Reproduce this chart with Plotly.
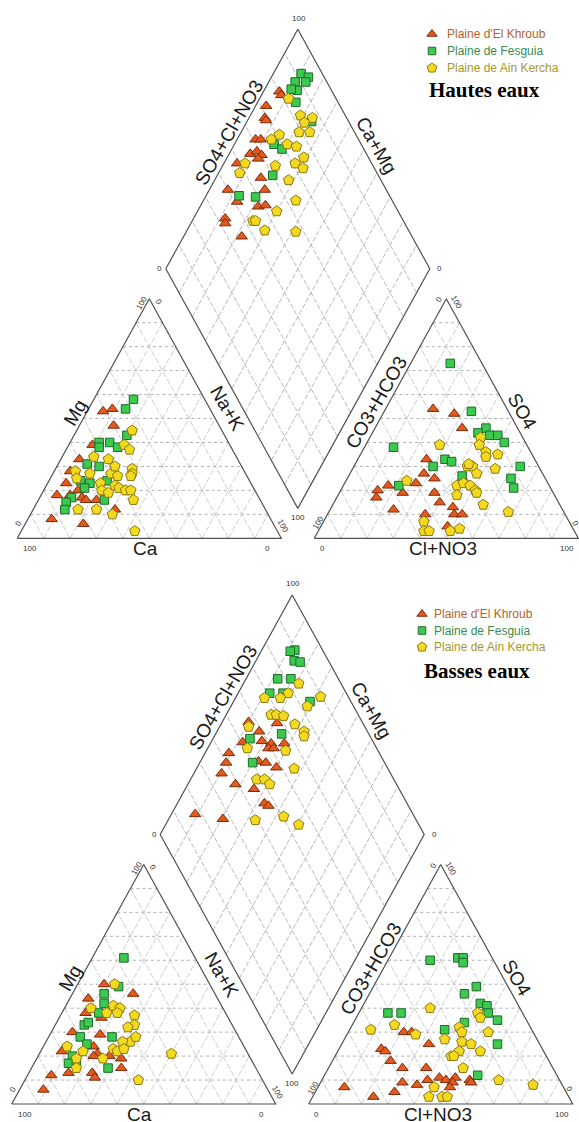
import plotly.graph_objects as go

# Piper diagram geometry (triangle side = 100 units)
H = 3 ** 0.5 / 2          # height of a unit equilateral triangle
GAP = 12.5                # gap between the cation and anion triangles
TICKS = [10, 20, 30, 40, 50, 60, 70, 80, 90]
PX_X, PX_Y = 2.64, 2.766  # screen pixels per diagram unit
FIG_W, FIG_H = 579, 1122

SITES = ["Plaine d'El Khroub", "Plaine de Fesguia", "Plaine de Ain Kercha"]
SITE_TEXT = ["#b4632f", "#3c8c4a", "#a8982c"]
SITE_MARKERS = [
    dict(symbol="triangle-up", size=10, color="#e35a1f", line=dict(color="#7a2a08", width=1)),
    dict(symbol="square", size=8.5, color="#3cc94f", line=dict(color="#1d6a2a", width=1)),
    dict(symbol="pentagon", size=11, color="#f4da1e", line=dict(color="#8a7812", width=1)),
]

# ---------------- Hautes eaux ----------------
# cation triangle: (Ca %, Mg %)
he_khroub_cation = [(41, 53), (37, 54), (40, 47), (52, 39), (60, 33), (66, 28), (70, 23), (67, 20),
                    (76, 18), (71, 18), (67, 17), (66, 16), (62, 16), (57, 12), (83, 8), (72, 6)]
he_fesguia_cation = [(27, 58), (32, 54), (37, 43), (49, 40), (45, 40), (43, 38), (50, 38), (58, 31),
                     (54, 30), (64, 24), (61, 23), (64, 21), (71, 17), (74, 15), (76, 12), (59, 16), (54, 24)]
he_kercha_cation = [(34, 45), (40, 39), (39, 37), (54, 34), (49, 33), (64, 28), (59, 27), (42, 29),
                    (43, 27), (51, 27), (49, 26), (44, 26), (57, 23), (52, 22), (51, 21), (49, 20),
                    (47, 20), (58, 20), (56, 19), (48, 16), (64, 12), (71, 12), (59, 10), (54, 3),
                    (65, 25), (48, 30)]
# anion triangle: (Cl+NO3 %, SO4 %)
he_khroub_anion = [(18, 54), (27, 52), (33, 46), (26, 33), (28, 27), (33, 25), (27, 23), (17, 22),
                   (14, 20), (15, 17), (24, 19), (36, 19), (40, 15), (24, 12), (37, 10), (46, 13),
                   (48, 10), (51, 10), (48, 5), (46, 23)]
he_fesguia_anion = [(15, 73), (33, 53), (42, 46), (40, 44), (45, 43), (48, 43), (52, 40), (11, 38),
                    (33, 33), (36, 32), (30, 30), (63, 30), (43, 26), (62, 25), (65, 21), (21, 22)]
he_kercha_anion = [(28, 39), (42, 42), (43, 39), (47, 36), (48, 34), (52, 35), (54, 29), (43, 30),
                   (45, 30), (48, 27), (23, 24), (43, 22), (45, 23), (48, 22), (51, 20), (52, 19),
                   (45, 18), (57, 14), (68, 11), (38, 7), (40, 3), (42, 3), (50, 3), (53, 4), (43, 31)]
# diamond: (Ca+Mg %, SO4+Cl+NO3 %)
he_khroub_diamond = [(94, 80), (92.5, 80), (96, 72), (94, 69), (93, 69), (93, 61), (91, 63), (92, 56),
                     (90, 59), (87.5, 60), (88, 58), (95, 49), (83, 55), (79, 54), (93, 40), (87, 41),
                     (78, 48), (75.5, 51), (88, 33), (87, 32), (78, 35.5)]
he_fesguia_diamond = [(89.5, 92), (90, 88), (86, 94), (86, 92), (87.5, 87), (90, 85), (85.5, 84),
                      (85, 67), (81, 69), (79, 60), (87.5, 43), (81, 49), (75.5, 86)]
he_kercha_diamond = [(89, 82), (81, 83), (76, 87), (78, 83), (78, 79), (74, 83), (87, 67), (85, 71),
                     (80, 72), (76, 75), (71, 75.5), (73, 71), (69, 73), (80, 63), (92, 52), (92, 48),
                     (72, 65), (65, 63.5), (70, 54), (77, 43), (76, 44), (70.5, 45.5), (58.5, 57)]

# ---------------- Basses eaux ----------------
be_khroub_cation = [(40, 50), (31, 46), (49, 44), (53, 38), (48, 36), (62, 30), (52, 29), (70, 22),
                    (57, 24), (57, 21), (59, 20), (53, 20), (49, 19), (67, 19), (79, 12), (72, 13),
                    (63, 13), (63, 11), (51, 15), (85, 6)]
be_fesguia_cation = [(27, 61), (35, 49), (42, 46), (44, 42), (48, 38), (56, 33), (54, 34), (60, 28),
                     (59, 25), (48, 28), (67, 20), (70, 17), (67, 17), (56, 15)]
be_kercha_cation = [(36, 50), (41, 41), (39, 40), (50, 40), (45, 38), (41, 38), (35, 37), (37, 33),
                    (40, 32), (42, 26), (39, 28), (45, 26), (50, 23), (49, 22), (46, 23), (56, 19),
                    (62, 22), (67, 24), (66, 19), (68, 15), (29, 21), (47, 10)]
be_khroub_anion = [(21, 30), (24, 30), (33, 25), (16, 23), (18, 22), (22, 18), (28, 15), (37, 15),
                   (40, 10), (37, 8), (31, 9), (30, 5), (44, 11), (47, 10), (50, 11), (50, 9),
                   (50, 7), (56, 10), (57, 9), (10, 7), (23, 3)]
be_fesguia_anion = [(16, 60), (26, 61), (28, 61), (29, 59), (39, 49), (36, 46), (44, 42), (47, 41),
                    (49, 38), (54, 35), (11, 38), (16, 38), (42, 34), (36, 31), (59, 25), (58, 12)]
be_kercha_anion = [(26, 40), (45, 38), (47, 36), (16, 33), (8, 31), (26, 29), (41, 32), (43, 30),
                   (53, 30), (38, 27), (45, 26), (49, 25), (54, 22), (46, 22), (44, 20), (45, 20),
                   (51, 15), (67, 10), (81, 8), (44, 7), (44, 3), (49, 3), (51, 3)]
be_khroub_diamond = [(79, 67.5), (90, 57), (84, 59), (88, 50.5), (81, 58), (77, 61), (77, 59), (75, 61),
                     (72, 66), (91, 43), (90, 40), (78, 52.5), (75, 55), (70, 58), (89.5, 36), (82, 39),
                     (74, 45), (67, 46), (65, 47), (91, 17.5), (79.5, 27)]
be_fesguia_diamond = [(87.5, 89.5), (89, 87.5), (85.5, 87), (83, 89), (83, 82), (88, 77), (88, 71),
                      (83, 76), (71, 84.5), (75, 67), (86, 54), (80, 50)]
be_kercha_diamond = [(79, 84), (81, 78), (83, 74), (89, 68), (68, 89.5), (71, 82.5), (83, 67), (81, 69),
                     (78, 71.5), (89, 56), (72, 74), (67, 76), (66, 75), (85, 51), (70, 65), (63, 64.5),
                     (75, 48), (72, 51), (69, 52), (67, 39), (57, 50.5), (49.6, 54.5)]


# ---------- coordinate transforms ----------
def cat_pt(ca, mg):
    nak = 100 - ca - mg
    return nak + mg / 2, mg * H


def an_pt(cl, so4):
    return 100 + GAP + cl + so4 / 2, so4 * H


def dia_pt(camg, s):
    x1 = 100 - camg          # Na+K projected from the cation triangle
    x2 = 100 + GAP + s       # SO4+Cl projected from the anion triangle
    return (x1 + x2) / 2, H * (x2 - x1)


def to_xy(func, pairs):
    pts = [func(a, b) for a, b in pairs]
    return [p[0] for p in pts], [p[1] for p in pts]


def segments_xy(segs):
    xs, ys = [], []
    for (p, q) in segs:
        xs += [p[0], q[0], None]
        ys += [p[1], q[1], None]
    return xs, ys


# grid segments
tri_horiz = [(cat_pt(100 - t, t), cat_pt(0, t)) for t in TICKS] + \
            [(an_pt(0, t), an_pt(100 - t, t)) for t in TICKS]
tri_slant = [(cat_pt(t, 0), cat_pt(t, 100 - t)) for t in TICKS] + \
            [(cat_pt(100 - t, 0), cat_pt(0, 100 - t)) for t in TICKS] + \
            [(an_pt(t, 0), an_pt(t, 100 - t)) for t in TICKS] + \
            [(an_pt(100 - t, 0), an_pt(0, 100 - t)) for t in TICKS]
dia_grid = [(dia_pt(t, 0), dia_pt(t, 100)) for t in TICKS] + \
           [(dia_pt(0, t), dia_pt(100, t)) for t in TICKS]
GRID_STYLES = [
    (tri_horiz, dict(color="#b2b2b2", width=1, dash="dot")),
    (tri_slant, dict(color="#c2c2c2", width=0.8, dash="6px,2px")),
    (dia_grid, dict(color="#a8a8a8", width=0.8, dash="5px,2px")),
]
outline_pts = {
    "cation": [cat_pt(100, 0), cat_pt(0, 0), cat_pt(0, 100), cat_pt(100, 0)],
    "anion": [an_pt(0, 0), an_pt(100, 0), an_pt(0, 100), an_pt(0, 0)],
    "diamond": [dia_pt(100, 0), dia_pt(100, 100), dia_pt(0, 100), dia_pt(0, 0), dia_pt(100, 0)],
}

# anchor points for labels
C_BL, C_BR, C_AP = cat_pt(100, 0), cat_pt(0, 0), cat_pt(0, 100)
A_BL, A_BR, A_AP = an_pt(0, 0), an_pt(100, 0), an_pt(0, 100)
D_L, D_T, D_R, D_B = dia_pt(100, 0), dia_pt(100, 100), dia_pt(0, 100), dia_pt(0, 0)


def mid(p, q):
    return (p[0] + q[0]) / 2, (p[1] + q[1]) / 2


SMALL, BIG = 8, 19
# (anchor, text, font size, dx px, dy px (down), angle)
LABELS = [
    (C_BL, "100", SMALL, 13, 10, 0), (C_BR, "0", SMALL, -14, 10, 0),
    (C_BL, "0", SMALL, 1, -15, -60), (C_AP, "100", SMALL, -7, 4, -60),
    (C_AP, "0", SMALL, 9, 3, 60), (C_BR, "100", SMALL, 2, -12, 60),
    (mid(C_BL, C_AP), "Mg", BIG, -8, -6, -60), (mid(C_BR, C_AP), "Na+K", BIG, 12, -10, 60),
    (mid(C_BL, C_BR), "Ca", BIG, -4, 10, 0),
    (A_BL, "0", SMALL, 8, 10, 0), (A_BR, "100", SMALL, -11, 10, 0),
    (A_BL, "100", SMALL, 4, -16, -60), (A_AP, "0", SMALL, -7, 1, -60),
    (A_AP, "100", SMALL, 10, 4, 60), (A_BR, "0", SMALL, -3, -15, 60),
    (mid(A_BL, A_AP), "CO3+HCO3", BIG, -4, -16, -60), (mid(A_BR, A_AP), "SO4", BIG, 10, -7, 60),
    (mid(A_BL, A_BR), "Cl+NO3", BIG, -3, 10, 0),
    (D_T, "100", SMALL, 1, -11, 0), (D_L, "0", SMALL, -6, 0, 0),
    (D_R, "0", SMALL, 10, 0, 0), (D_B, "100", SMALL, 0, 9, 0),
    (mid(D_L, D_T), "SO4+Cl+NO3", BIG, -3, -17, -60), (mid(D_R, D_T), "Ca+Mg", BIG, 13, -4, 60),
]

# key block (symbol column x, first row y, row step, text x) and title position, in page pixels
PANELS = [
    dict(axis="", title="Hautes eaux", origin=(17.3, 538.3), top=0,
         cation=[he_khroub_cation, he_fesguia_cation, he_kercha_cation],
         anion=[he_khroub_anion, he_fesguia_anion, he_kercha_anion],
         diamond=[he_khroub_diamond, he_fesguia_diamond, he_kercha_diamond],
         key=(432, 34, 17, 445), title_pos=(427, 90)),
    dict(axis="2", title="Basses eaux", origin=(11.7, 1104), top=561,
         cation=[be_khroub_cation, be_fesguia_cation, be_kercha_cation],
         anion=[be_khroub_anion, be_fesguia_anion, be_kercha_anion],
         diamond=[be_khroub_diamond, be_fesguia_diamond, be_kercha_diamond],
         key=(422, 614, 16.5, 432), title_pos=(422, 671)),
]

fig = go.Figure()
layout = dict(
    width=FIG_W, height=FIG_H, margin=dict(l=0, r=0, t=0, b=0),
    paper_bgcolor="white", plot_bgcolor="rgba(0,0,0,0)", showlegend=False, annotations=[],
    # page-pixel overlay used for the key symbols
    xaxis3=dict(range=[0, FIG_W], domain=[0, 1], visible=False, fixedrange=True, anchor="y3"),
    yaxis3=dict(range=[FIG_H, 0], domain=[0, 1], visible=False, fixedrange=True, anchor="x3"),
)
panel_h = FIG_H / 2
FONT_SANS = "Arial, Liberation Sans, sans-serif"

for pi, panel in enumerate(PANELS):
    sfx = panel["axis"]
    xa, ya = "x" + sfx, "y" + sfx
    ox, oy = panel["origin"]
    top = panel["top"]
    layout["xaxis" + sfx] = dict(range=[-ox / PX_X, (FIG_W - ox) / PX_X], domain=[0, 1],
                                 visible=False, fixedrange=True, anchor=ya)
    layout["yaxis" + sfx] = dict(range=[-(top + panel_h - oy) / PX_Y, (oy - top) / PX_Y],
                                 domain=[1 - (top + panel_h) / FIG_H, 1 - top / FIG_H],
                                 visible=False, fixedrange=True, anchor=xa)

    for segs, style in GRID_STYLES:
        gx, gy = segments_xy(segs)
        fig.add_trace(go.Scatter(x=gx, y=gy, mode="lines", xaxis=xa, yaxis=ya,
                                 hoverinfo="skip", line=style))
    for pts in outline_pts.values():
        fig.add_trace(go.Scatter(x=[p[0] for p in pts], y=[p[1] for p in pts], mode="lines",
                                 xaxis=xa, yaxis=ya, hoverinfo="skip",
                                 line=dict(color="#505050", width=1.2)))

    kx, ky, kstep, ktx = panel["key"]
    for si, site in enumerate(SITES):
        xs, ys = [], []
        for func, key in ((cat_pt, "cation"), (an_pt, "anion"), (dia_pt, "diamond")):
            x, y = to_xy(func, panel[key][si])
            xs += x
            ys += y
        fig.add_trace(go.Scatter(x=xs, y=ys, mode="markers", xaxis=xa, yaxis=ya,
                                 name=site, marker=SITE_MARKERS[si]))

        # key entry: symbol + coloured site name
        row_y = ky + si * kstep
        key_marker = dict(SITE_MARKERS[si])
        key_marker["size"] = key_marker["size"] - 1
        fig.add_trace(go.Scatter(x=[kx], y=[row_y], mode="markers", xaxis="x3", yaxis="y3",
                                 hoverinfo="skip", marker=key_marker))
        layout["annotations"].append(dict(
            x=ktx, y=row_y, xref="x3", yref="y3", xanchor="left", yanchor="middle",
            text=site, showarrow=False,
            font=dict(family=FONT_SANS, size=12, color=SITE_TEXT[si]),
        ))

    for anchor, text, size, dx, dy, ang in LABELS:
        layout["annotations"].append(dict(
            x=anchor[0], y=anchor[1], xref=xa, yref=ya, text=text, showarrow=False,
            xshift=dx, yshift=-dy, textangle=ang,
            font=dict(family=FONT_SANS, size=size,
                      color="#333333" if size == SMALL else "#1a1a1a"),
        ))

    tx, ty = panel["title_pos"]
    layout["annotations"].append(dict(
        x=tx, y=ty, xref="x3", yref="y3", xanchor="left",
        yanchor="middle", text="<b>" + panel["title"] + "</b>", showarrow=False,
        font=dict(family="Times New Roman, Liberation Serif, serif", size=21, color="black"),
    ))

fig.update_layout(**layout)
fig.write_html("out.html")
